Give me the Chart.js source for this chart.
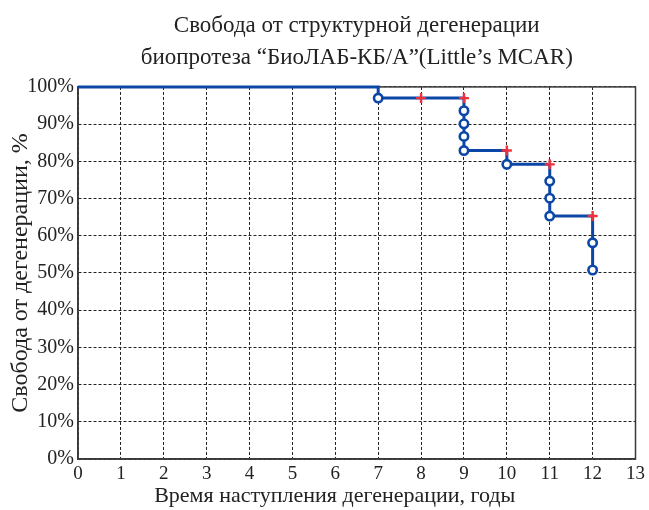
<!DOCTYPE html>
<html>
<head>
<meta charset="utf-8">
<script src="https://cdn.jsdelivr.net/npm/chart.js@4/dist/chart.umd.min.js"></script>
<style>
  html, body { margin: 0; padding: 0; background: #fff; }
</style>
</head>
<body>
<canvas id="grafico" width="649" height="510"></canvas>
<script>
// Kaplan-Meier steps (time in years, survival in %)
const stepTimes = [0, 7, 9, 9, 9, 9, 10, 11, 11, 11, 12, 12];
const stepSurvival = [100, 97, 93.6, 90.1, 86.7, 82.9, 79.2, 74.7, 70.1, 65.3, 58.1, 50.8];
// censored observations
const censorTimes = [8, 9, 10, 11, 12];
const censorSurvival = [97, 97, 82.9, 79.2, 65.3];
const yTicks = [0, 10, 20, 30, 40, 50, 60, 70, 80, 90, 100];
const xTicks = [0, 1, 2, 3, 4, 5, 6, 7, 8, 9, 10, 11, 12, 13];

const serif = 'Liberation Serif';
const blue = '#0b47a6';

const stepPoints = stepTimes.map((t, i) => ({ x: t, y: stepSurvival[i] }));
const eventPoints = stepPoints.slice(1);
const censorPoints = censorTimes.map((t, i) => ({ x: t, y: censorSurvival[i] }));

// box round the plot, under the data
const frame = {
    id: 'frame',
    beforeDatasetsDraw(chart) {
        const a = chart.chartArea;
        const c = chart.ctx;
        c.save();
        c.strokeStyle = '#3a3a3a';
        c.lineWidth = 1.5;
        c.strokeRect(a.left, a.top, a.right - a.left, a.bottom - a.top);
        c.restore();
    }
};

const ctx = document.getElementById('grafico').getContext('2d');
new Chart(ctx, {
    type: 'scatter',
    data: {
        datasets: [
            {
                data: stepPoints,
                showLine: true,
                stepped: true,
                borderColor: blue,
                borderWidth: 3,
                pointRadius: 0,
                clip: false,
                order: 3
            },
            {
                data: eventPoints,
                showLine: false,
                pointStyle: 'circle',
                pointRadius: 4.2,
                pointBorderWidth: 2.6,
                pointBackgroundColor: '#fff',
                pointBorderColor: blue,
                clip: false,
                order: 2
            },
            {
                data: censorPoints,
                showLine: false,
                pointStyle: 'cross',
                pointRadius: 5,
                pointBorderWidth: 2.4,
                pointBorderColor: '#f0303c',
                clip: false,
                order: 1
            }
        ]
    },
    options: {
        responsive: false,
        animation: false,
        layout: { padding: { top: 0, right: 11, bottom: 0, left: 0 } },
        plugins: {
            legend: { display: false },
            tooltip: { enabled: false },
            title: {
                display: true,
                fullSize: false,
                text: ['Свобода от структурной дегенерации', 'биопротеза “БиоЛАБ-КБ/А”(Little’s MCAR)'],
                color: '#222',
                font: { family: serif, size: 23, weight: 'normal', lineHeight: 1.39 },
                padding: { top: 10, bottom: 13 }
            }
        },
        scales: {
            x: {
                type: 'linear',
                min: 0,
                max: 13,
                afterBuildTicks: s => { s.ticks = xTicks.map(v => ({ value: v })); },
                afterFit: s => { s.height = 51; },
                grid: {
                    color: '#222',
                    lineWidth: 1,
                    drawTicks: false
                },
                border: { display: true, color: '#3a3a3a', width: 1.5, dash: [3, 2] },
                ticks: {
                    color: '#222',
                    padding: 4,
                    maxRotation: 0,
                    autoSkip: false,
                    font: { family: serif, size: 19 }
                },
                title: {
                    display: true,
                    text: 'Время наступления дегенерации, годы\u00a0\u00a0\u00a0\u00a0\u00a0\u00a0\u00a0\u00a0',
                    color: '#222',
                    font: { family: serif, size: 22 },
                    padding: { top: 0, bottom: 1 }
                }
            },
            y: {
                type: 'linear',
                min: 0,
                max: 100,
                afterBuildTicks: s => { s.ticks = yTicks.map(v => ({ value: v })); },
                afterFit: s => { s.width = 78; },
                grid: {
                    color: '#222',
                    lineWidth: 1,
                    drawTicks: false
                },
                border: { display: true, color: '#3a3a3a', width: 1.5, dash: [3, 2] },
                ticks: {
                    color: '#222',
                    padding: 4,
                    autoSkip: false,
                    font: { family: serif, size: 20 },
                    callback: v => v + '%'
                },
                title: {
                    display: true,
                    text: 'Свобода от дегенерации, %',
                    color: '#222',
                    font: { family: serif, size: 24 },
                    padding: { top: 6, bottom: 0 }
                }
            }
        }
    },
    plugins: [frame]
});
</script>
</body>
</html>
